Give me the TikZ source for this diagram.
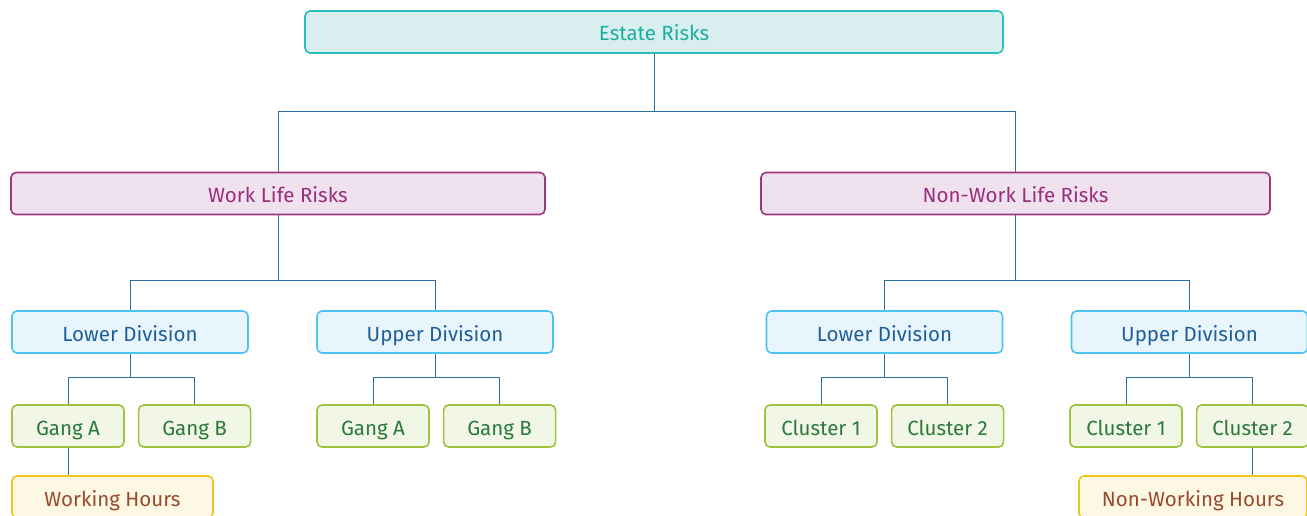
\documentclass[tikz,border=0pt]{standalone}
\usepackage{fontspec}
\setmainfont{Fira Sans}
\usepackage{tikz}
\usetikzlibrary{positioning}
\definecolor{rootline}{HTML}{2BBDBD}
\definecolor{rootfill}{HTML}{D9EFEF}
\definecolor{roottext}{HTML}{1AAE9F}
\definecolor{riskline}{HTML}{A0357F}
\definecolor{riskfill}{HTML}{EFE1EE}
\definecolor{risktext}{HTML}{9A2D7D}
\definecolor{divline}{HTML}{4DC3F0}
\definecolor{divfill}{HTML}{E9F5FC}
\definecolor{divtext}{HTML}{1F5F99}
\definecolor{unitline}{HTML}{9CC43E}
\definecolor{unitfill}{HTML}{F1F6E6}
\definecolor{unittext}{HTML}{2A7A3A}
\definecolor{hourline}{HTML}{EDC619}
\definecolor{hourfill}{HTML}{FDF8E4}
\definecolor{hourtext}{HTML}{9A4A2C}
\definecolor{linkc}{HTML}{2A6D9E}

\begin{document}
\begin{tikzpicture}[x=1pt,y=1pt,
  every node/.style={font=\fontsize{20.5}{24}\selectfont,align=center},
  box/.style={rectangle,rounded corners=5pt,line width=1.6pt,
              minimum height=42pt,inner sep=0pt,text height=20pt,text depth=2pt},
  rootbox/.style={box,draw=rootline,fill=rootfill,text=roottext},
  riskbox/.style={box,draw=riskline,fill=riskfill,text=risktext},
  divbox/.style={box,draw=divline,fill=divfill,text=divtext,minimum width=236pt},
  unitbox/.style={box,draw=unitline,fill=unitfill,text=unittext,minimum width=112pt},
  hoursbox/.style={box,draw=hourline,fill=hourfill,text=hourtext},
  link/.style={draw=linkc,line width=0.9pt},
]
\useasboundingbox (0,0) rectangle (1307,-516);
\node[rootbox,minimum width=698pt] (root) at (654,-32) {Estate Risks};

\node[riskbox,minimum width=534pt] (wl) at (278,-193.5) {Work Life Risks};
\node[riskbox,minimum width=509pt] (nwl) at (1015.5,-193.5) {Non-Work Life Risks};

\node[divbox] (wlow) at (130,-332) {Lower Division};
\node[divbox] (wup) at (435,-332) {Upper Division};
\node[divbox] (nlow) at (884.5,-332) {Lower Division};
\node[divbox] (nup) at (1189.5,-332) {Upper Division};

\node[unitbox] (ga1) at (68,-426) {Gang A};
\node[unitbox,right=13pt of ga1] (gb1) {Gang B};
\node[unitbox] (ga2) at (373,-426) {Gang A};
\node[unitbox,right=13pt of ga2] (gb2) {Gang B};
\node[unitbox] (c11) at (821,-426) {Cluster 1};
\node[unitbox,right=13pt of c11] (c12) {Cluster 2};
\node[unitbox] (c21) at (1126,-426) {Cluster 1};
\node[unitbox,right=13pt of c21] (c22) {Cluster 2};

\node[hoursbox,minimum width=201pt] (wh) at (112.5,-497) {Working Hours};
\node[hoursbox,minimum width=228pt] (nwh) at (1193,-497) {Non-Working Hours};

\draw[link] (root.south) -- ++(0,-58) -| (wl.north);
\draw[link] (root.south) -- ++(0,-58) -| (nwl.north);

\draw[link] (wl.south) -- ++(0,-65) -| (wlow.north);
\draw[link] (wl.south) -- ++(0,-65) -| (wup.north);
\draw[link] (nwl.south) -- ++(0,-65) -| (nlow.north);
\draw[link] (nwl.south) -- ++(0,-65) -| (nup.north);

\draw[link] (wlow.south) -- ++(0,-24) -| (ga1.north);
\draw[link] (wlow.south) -- ++(0,-24) -| (gb1.north);
\draw[link] (wup.south) -- ++(0,-24) -| (ga2.north);
\draw[link] (wup.south) -- ++(0,-24) -| (gb2.north);
\draw[link] (nlow.south) -- ++(0,-24) -| (c11.north);
\draw[link] (nlow.south) -- ++(0,-24) -| (c12.north);
\draw[link] (nup.south) -- ++(0,-24) -| (c21.north);
\draw[link] (nup.south) -- ++(0,-24) -| (c22.north);

\draw[link] (ga1.south) -- (ga1.south |- wh.north);
\draw[link] (c22.south) -- (c22.south |- nwh.north);
\end{tikzpicture}
\end{document}
